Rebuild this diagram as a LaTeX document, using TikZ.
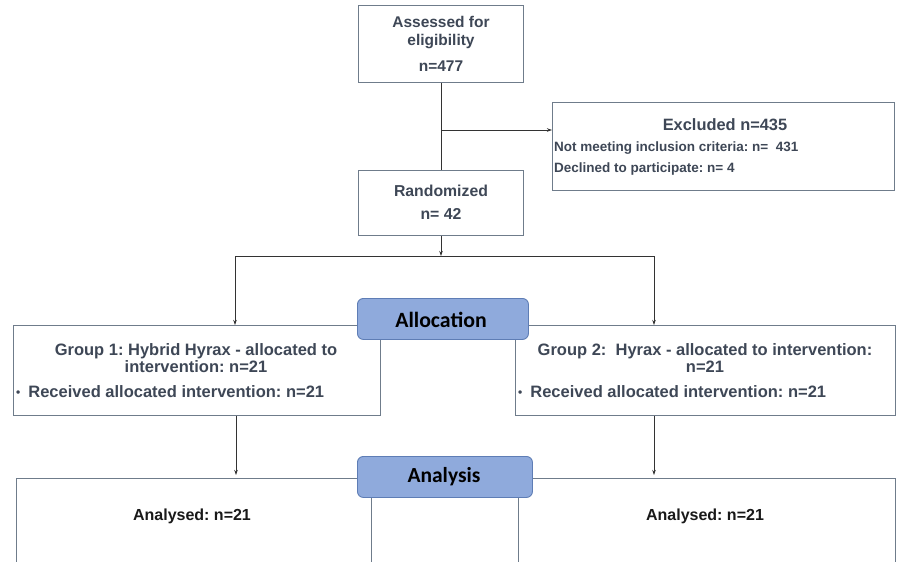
\documentclass[tikz,border=0pt]{standalone}
\usepackage{fontspec}
\setmainfont{Liberation Sans}
\newfontfamily\califont{Carlito}
\usetikzlibrary{arrows.meta}
\frenchspacing
\definecolor{txt}{HTML}{3E4756}
\definecolor{bord}{HTML}{6F7C8B}
\definecolor{hfill}{HTML}{8FAADC}
\definecolor{hbord}{HTML}{5E7DB5}
\newcommand{\smallbul}{{\fontsize{12}{12}\selectfont\raisebox{1pt}{\textbullet}}}
\tikzset{
  box/.style={draw=bord, line width=0.9pt, inner sep=0pt, anchor=north west},
  head/.style={draw=hbord, fill=hfill, rounded corners=6pt, line width=0.9pt, inner sep=0pt, anchor=north west},
  t/.style={text=txt, font=\bfseries, inner sep=0pt, align=center},
  conn/.style={draw=black!80, line width=0.8pt},
  arr/.style={conn, -{Stealth[length=5pt,width=3.5pt]}},
}
\begin{document}
\begin{tikzpicture}[x=1pt,y=-1pt]
\clip (0,0) rectangle (897,562);
\fill[white] (0,0) rectangle (897,562);
% boxes
\node[box, minimum width=165, minimum height=77] (assess) at (358,5) {};
\node[box, minimum width=342, minimum height=88] (excl) at (552,102) {};
\node[box, minimum width=165, minimum height=65] (rand) at (358,170) {};
\node[box, minimum width=367, minimum height=90] (g1) at (13,325) {};
\node[box, minimum width=380, minimum height=90] (g2) at (515,325) {};
\node[box, minimum width=355, minimum height=120] (a1) at (16,478) {};
\node[box, minimum width=377, minimum height=120] (a2) at (518,478) {};
\node[head, minimum width=171, minimum height=41] (alloc) at (357,298) {};
\node[head, minimum width=175, minimum height=41] (anal) at (357,456) {};
% texts
\node[t, font=\bfseries\fontsize{15.5}{18}\selectfont] (tassess) at (441,33) {Assessed for\\eligibility};
\node[t, font=\bfseries\fontsize{15.5}{18}\selectfont] (tn477) at (441,66) {n=477};
\node[t, font=\bfseries\fontsize{16.4}{18}\selectfont] (texcl) at (725,125) {Excluded n=435};
\node[t, font=\bfseries\fontsize{13.5}{16}\selectfont, anchor=west] (tnm) at (554,148) {Not meeting inclusion criteria: n=\ \ 431};
\node[t, font=\bfseries\fontsize{13.5}{16}\selectfont, anchor=west] (tdec) at (554,169) {Declined to participate: n= 4};
\node[t, font=\bfseries\fontsize{15.8}{18}\selectfont] (trand) at (441,191) {Randomized};
\node[t, font=\bfseries\fontsize{15.8}{18}\selectfont] (tn42) at (441,214) {n= 42};
\node[t, text=black, font=\califont\bfseries\fontsize{21.8}{24}\selectfont] (talloc) at (441,320) {Allocation};
\node[t, font=\bfseries\fontsize{16.5}{17}\selectfont] (tg1) at (196,358) {Group 1: Hybrid Hyrax - allocated to\\intervention: n=21};
\node[t, font=\bfseries\fontsize{16.5}{17}\selectfont, anchor=west] (tg1b) at (16,392) {\smallbul\hspace{8pt}Received allocated intervention: n=21};
\node[t, font=\bfseries\fontsize{16.5}{17}\selectfont] (tg2) at (705,358) {Group 2:\ \ Hyrax - allocated to intervention:\\n=21};
\node[t, font=\bfseries\fontsize{16.5}{17}\selectfont, anchor=west] (tg2b) at (518,392) {\smallbul\hspace{8pt}Received allocated intervention: n=21};
\node[t, text=black, font=\califont\bfseries\fontsize{21.5}{24}\selectfont] (tanal) at (444,477) {Analysis};
\node[t, text=black!90, font=\bfseries\fontsize{16}{18}\selectfont] (ta1) at (192,516) {Analysed: n=21};
\node[t, text=black!90, font=\bfseries\fontsize{16}{18}\selectfont] (ta2) at (705,516) {Analysed: n=21};
% connectors
\coordinate (br) at (441,130);
\coordinate (split) at (441,256);
\coordinate (sl) at (235,256);
\coordinate (sr) at (654,256);
\coordinate (e1) at (236,475);
\coordinate (e2) at (654,475);
\draw[conn] (assess.south -| br) -- (rand.north -| br);
\draw[arr] (br) -- (excl.west |- br);
\draw[arr] (rand.south -| split) -- (split);
\draw[conn] (sl) -- (sr);
\draw[arr] (sl) -- (g1.north -| sl);
\draw[arr] (sr) -- (g2.north -| sr);
\draw[arr] (g1.south -| e1) -- (e1);
\draw[arr] (g2.south -| e2) -- (e2);
\end{tikzpicture}
\end{document}
